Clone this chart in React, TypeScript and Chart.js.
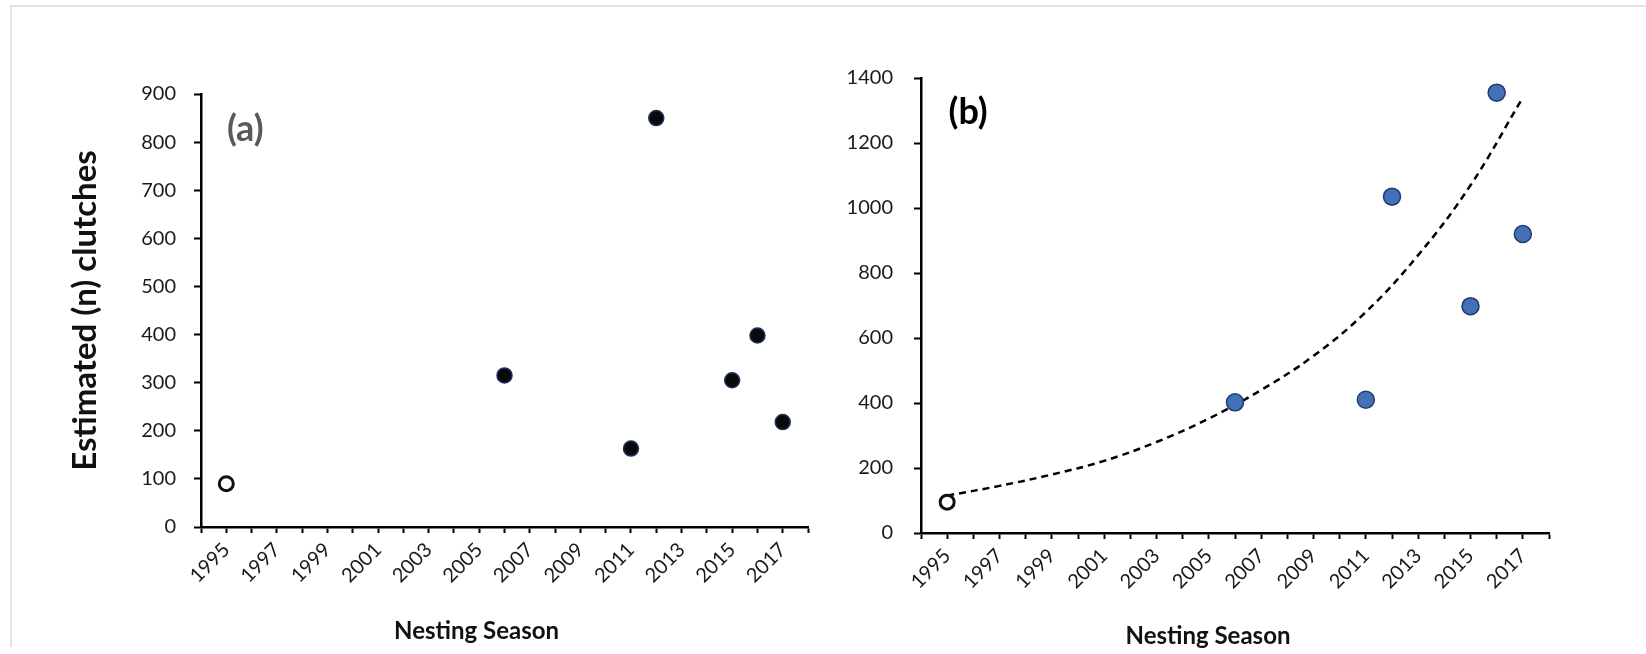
import React, { useEffect, useRef } from 'react';
import { Chart, registerables } from 'chart.js';

Chart.register(...registerables);

const FONT = 'Lato, "Open Sans", sans-serif';

// ---- data ----
const baselineYear = [1995];
const baselineA = [90];
const baselineB = [95];

const surveyYears = [2006, 2011, 2012, 2015, 2016, 2017];
const clutchesA = [315, 163, 850, 305, 398, 218];
const clutchesB = [402, 410, 1035, 698, 1355, 920];

const trendYears = [1995, 1997, 1999, 2001, 2003, 2005, 2007, 2009, 2011, 2013, 2015, 2017];
const trendB = [115, 145, 180, 222, 280, 352, 440, 545, 680, 855, 1070, 1340];

const xTickLabels = ['1995', '1997', '1999', '2001', '2003', '2005', '2007', '2009', '2011', '2013', '2015', '2017'];
const xMin = 1994;
const xMax = 2018;
const yMaxA = 900;
const yStepA = 100;
const yMaxB = 1400;
const yStepB = 200;

const pts = (xs: number[], ys: number[]) => xs.map((x, i) => ({ x, y: ys[i] }));

const overlayPlugin = {
  id: 'overlay',
  afterDraw(chart: any, _args: any, opts: any) {
    const { ctx, chartArea, scales } = chart;
    ctx.save();
    if (opts.label) {
      ctx.font = `bold ${opts.label.size}px ${FONT}`;
      ctx.fillStyle = opts.label.color;
      ctx.textAlign = 'center';
      ctx.textBaseline = 'middle';
      ctx.fillText(
        opts.label.text,
        scales.x.getPixelForValue(opts.label.x),
        scales.y.getPixelForValue(opts.label.y)
      );
    }
    if (opts.xTitle) {
      ctx.font = `bold ${opts.xTitle.size}px ${FONT}`;
      ctx.fillStyle = '#111';
      ctx.textAlign = 'center';
      ctx.textBaseline = 'middle';
      ctx.fillText(
        opts.xTitle.text,
        (chartArea.left + chartArea.right) / 2 + opts.xTitle.dx,
        chartArea.bottom + opts.xTitle.dy
      );
    }
    ctx.restore();
  },
};

function xScale(height: number) {
  return {
    type: 'linear',
    min: xMin,
    max: xMax,
    afterFit: (s: any) => {
      s.height = height;
    },
    ticks: {
      stepSize: 1,
      autoSkip: false,
      minRotation: 45,
      maxRotation: 45,
      padding: 5,
      color: '#1a1a1a',
      font: { family: FONT, size: 20 },
      callback: (v: any) => (xTickLabels.includes(String(v)) ? String(v) : ''),
    },
    grid: {
      drawOnChartArea: false,
      drawTicks: true,
      tickLength: 6,
      tickWidth: 2,
      tickColor: '#000',
    },
    border: { display: true, color: '#000', width: 2.5 },
  };
}

function yScale(max: number, step: number, width: number, pad: number, size: number, title?: string) {
  return {
    type: 'linear',
    min: 0,
    max,
    afterFit: (s: any) => {
      s.width = width;
    },
    ticks: {
      stepSize: step,
      padding: pad,
      color: '#1a1a1a',
      font: { family: FONT, size },
      callback: (v: any) => String(v),
    },
    grid: {
      drawOnChartArea: false,
      drawTicks: true,
      tickLength: 7,
      tickWidth: 2,
      tickColor: '#000',
    },
    border: { display: true, color: '#000', width: 2.5 },
    title: title
      ? {
          display: true,
          text: title,
          color: '#111',
          padding: 0,
          font: { family: FONT, size: 33, weight: 'bold' },
        }
      : { display: false },
  };
}

function ChartCanvas({ config, width, height, left }: any) {
  const ref = useRef<HTMLCanvasElement | null>(null);
  useEffect(() => {
    if (!ref.current) return;
    const chart = new Chart(ref.current, config);
    return () => chart.destroy();
  }, []);
  return (
    <canvas
      ref={ref}
      width={width}
      height={height}
      style={{ position: 'absolute', left, top: 0, width, height }}
    />
  );
}

const openCircle = {
  pointStyle: 'circle',
  pointRadius: 7,
  pointBackgroundColor: '#fff',
  pointBorderColor: '#111',
  pointBorderWidth: 3,
  order: 1,
};

const configA: any = {
  type: 'scatter',
  data: {
    datasets: [
      { label: 'Baseline', data: pts(baselineYear, baselineA), ...openCircle },
      {
        label: 'Clutches',
        data: pts(surveyYears, clutchesA),
        pointRadius: 7.5,
        pointBackgroundColor: '#0a0a0a',
        pointBorderColor: '#1d2f5e',
        pointBorderWidth: 1.5,
        order: 1,
      },
    ],
  },
  options: {
    responsive: false,
    animation: false,
    devicePixelRatio: 1,
    layout: { padding: { left: 66, top: 94, right: 21, bottom: 9 } },
    plugins: {
      legend: { display: false },
      tooltip: { enabled: false },
      overlay: {
        label: { text: '(a)', x: 1995.75, y: 827, size: 36, color: '#5a5a5a' },
        xTitle: { text: 'Nesting Season', dx: -28, dy: 104, size: 24 },
      },
    },
    scales: {
      x: xScale(118),
      y: yScale(yMaxA, yStepA, 135, 18, 20, 'Estimated (n) clutches'),
    },
  },
  plugins: [overlayPlugin],
};

const configB: any = {
  type: 'scatter',
  data: {
    datasets: [
      {
        label: 'Trend',
        data: pts(trendYears, trendB),
        showLine: true,
        borderColor: '#000',
        borderWidth: 2.5,
        borderDash: [7, 5],
        pointRadius: 0,
        tension: 0.4,
        order: 2,
      },
      { label: 'Baseline', data: pts(baselineYear, baselineB), ...openCircle },
      {
        label: 'Clutches',
        data: pts(surveyYears, clutchesB),
        pointRadius: 8.5,
        pointBackgroundColor: '#4470b8',
        pointBorderColor: '#1f3a6e',
        pointBorderWidth: 1.5,
        order: 1,
      },
    ],
  },
  options: {
    responsive: false,
    animation: false,
    devicePixelRatio: 1,
    layout: { padding: { left: 0, top: 78, right: 97, bottom: 4 } },
    plugins: {
      legend: { display: false },
      tooltip: { enabled: false },
      overlay: {
        label: { text: '(b)', x: 1995.8, y: 1295, size: 36, color: '#000' },
        xTitle: { text: 'Nesting Season', dx: -27, dy: 103, size: 24 },
      },
    },
    scales: {
      x: xScale(117),
      y: yScale(yMaxB, yStepB, 91, 21, 20),
    },
  },
  plugins: [overlayPlugin],
};

export default function App() {
  return (
    <div
      style={{
        position: 'absolute',
        left: 0,
        top: 0,
        width: 1646,
        height: 654,
        overflow: 'hidden',
        background: '#fff',
      }}
    >
      <div
        style={{
          position: 'absolute',
          left: 10,
          top: 5,
          width: 1636,
          height: 640,
          borderTop: '2px solid #e2e2e2',
          borderLeft: '2px solid #e2e2e2',
        }}
      />
      <ChartCanvas config={configA} width={830} height={654} left={0} />
      <ChartCanvas config={configB} width={816} height={654} left={830} />
    </div>
  );
}
